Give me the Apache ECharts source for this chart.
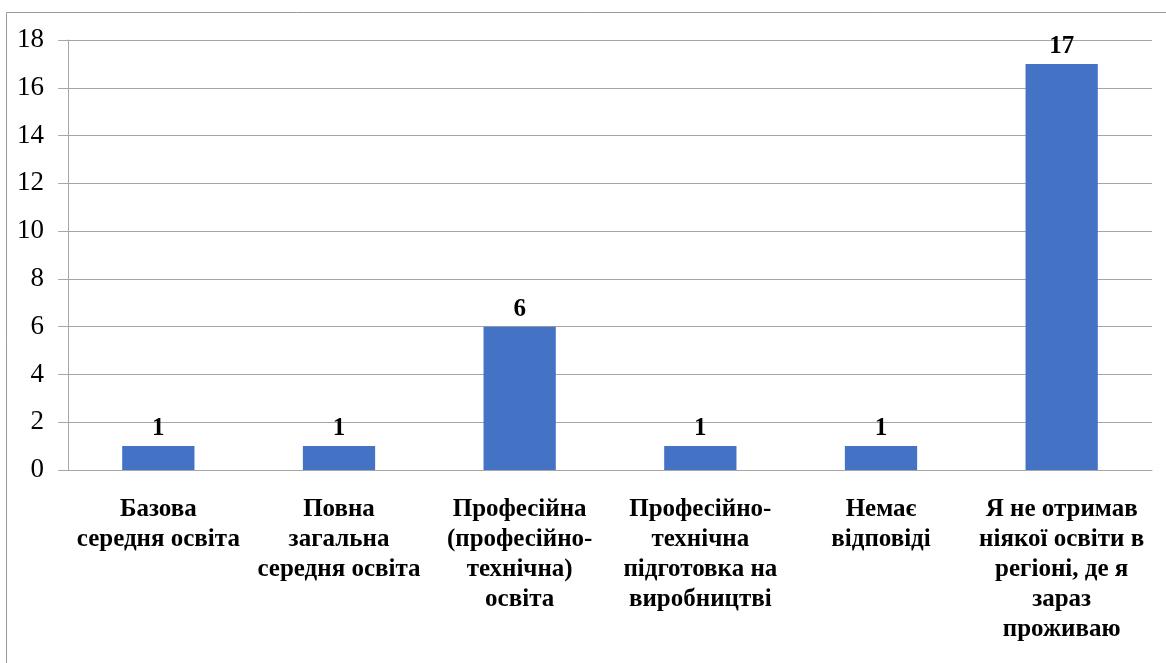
<!DOCTYPE html>
<html>
<head>
<meta charset="utf-8">
<script src="https://cdn.jsdelivr.net/npm/echarts@6/dist/echarts.min.js"></script>
<style>
  html, body { margin: 0; padding: 0; background: #fff; }
  #chart { width: 1166px; height: 663px; }
</style>
</head>
<body>
<div id="chart"></div>
<script>
// Respondents by education received in the region of residence
const categories = [
  'Базова\nсередня освіта',
  'Повна\nзагальна\nсередня освіта',
  'Професійна\n(професійно-\nтехнічна)\nосвіта',
  'Професійно-\nтехнічна\nпідготовка на\nвиробництві',
  'Немає\nвідповіді',
  'Я не отримав\nніякої освіти в\nрегіоні, де я\nзараз\nпроживаю'
];
const counts = [1, 1, 6, 1, 1, 17];
const yMin = 0, yMax = 18, yStep = 2;

const serif = 'Liberation Serif';
const chart = echarts.init(document.getElementById('chart'));
chart.setOption({
  animation: false,
  backgroundColor: '#fff',
  graphic: [{
    type: 'rect',
    shape: { x: 6.5, y: 12.5, width: 1300, height: 800 },
    style: { fill: 'none', stroke: '#9a9a9a', lineWidth: 1 },
    silent: true,
    z: -1
  }],
  grid: { left: 68, right: 14, top: 40, bottom: 193 },
  xAxis: {
    type: 'category',
    data: categories,
    axisLine: { show: true, lineStyle: { color: '#a6a6a6', width: 1 } },
    axisTick: { show: false },
    axisLabel: {
      interval: 0,
      margin: 25,
      color: '#000',
      fontFamily: serif,
      fontWeight: 'bold',
      fontSize: 25,
      lineHeight: 30,
      align: 'center'
    }
  },
  yAxis: {
    type: 'value',
    min: yMin, max: yMax, interval: yStep,
    axisLine: { show: true, lineStyle: { color: '#a6a6a6', width: 1 } },
    axisTick: { show: true, inside: false, length: 10, lineStyle: { color: '#a6a6a6' } },
    splitLine: { show: true, lineStyle: { color: '#a6a6a6', width: 1 } },
    axisLabel: {
      margin: 24,
      color: '#000',
      fontFamily: serif,
      fontSize: 27
    }
  },
  series: [{
    type: 'bar',
    data: counts,
    barWidth: '40%',
    itemStyle: { color: '#4472C4' },
    label: {
      show: true,
      position: 'top',
      distance: 5,
      color: '#000',
      fontFamily: serif,
      fontWeight: 'bold',
      fontSize: 25
    }
  }]
});
</script>
</body>
</html>
